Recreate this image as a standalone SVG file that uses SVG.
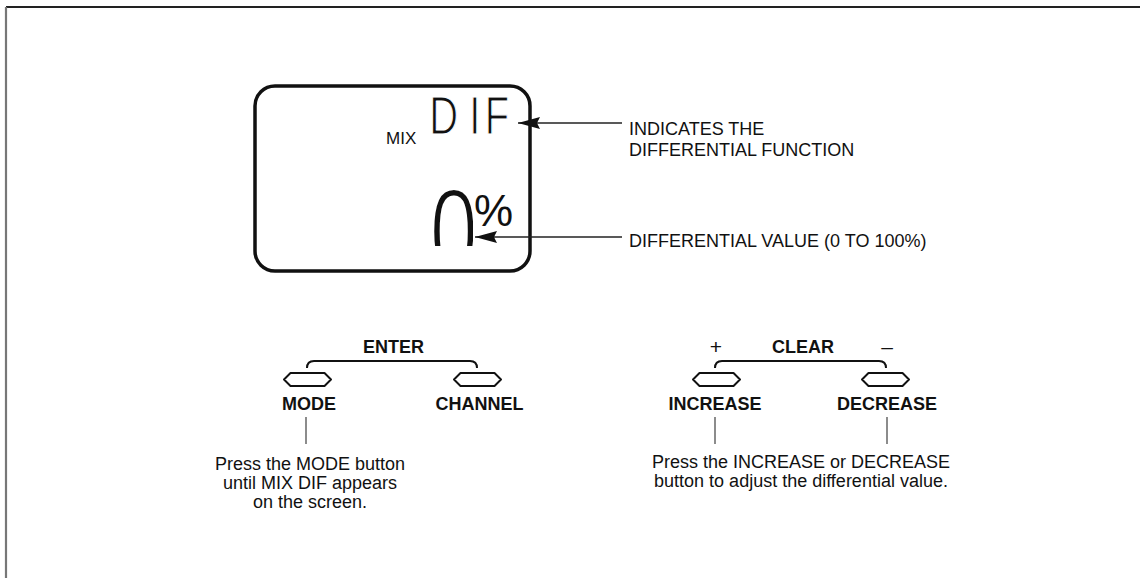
<svg xmlns="http://www.w3.org/2000/svg" width="1140" height="578" viewBox="0 0 1140 578">
<style>
text{font-family:"Liberation Sans",Arial,sans-serif;fill:#111}
.lbl{font-size:18px}
.b{font-size:18px;font-weight:bold;text-anchor:middle}
.note{font-size:18px;text-anchor:middle}
.btn{fill:#fff;stroke:#111;stroke-width:2;stroke-linejoin:round}
.brk{fill:none;stroke:#111;stroke-width:2}
.lead{stroke:#666;stroke-width:1.5}
.arr{stroke:#222;stroke-width:1.3;fill:none;marker-end:url(#ah)}
.thin{stroke:#fff;stroke-linejoin:round}
</style>
<defs>
<marker id="ah" viewBox="0 0 22 12" refX="22" refY="6" markerWidth="22" markerHeight="12" markerUnits="userSpaceOnUse" orient="auto">
<path d="M0,0 L22,6 L0,12 L3,6 Z" fill="#111"/>
</marker>
<path id="btnshape" d="M-23.5,0 L-17,-6.5 H17 L23.5,0 L17,6.5 H-17 Z"/>
<clipPath id="zclip"><rect x="400" y="150" width="73" height="96"/></clipPath>
</defs>
<rect width="1140" height="578" fill="#fff"/>
<g id="frame">
<line x1="6" y1="7" x2="1140" y2="7" stroke="#222" stroke-width="1.8"/>
<line x1="6" y1="7" x2="6" y2="578" stroke="#777" stroke-width="2.2"/>
</g>
<g id="display">
<rect x="255" y="86" width="275" height="185" rx="20" ry="20" fill="none" stroke="#111" stroke-width="3.5"/>
<text x="386" y="144" style="font-size:17px">MIX</text>
<text class="thin" transform="translate(0,134) scale(0.74,1)" x="580 634 655" y="0" style="font-size:54px;stroke-width:1.2">DIF</text>
<g clip-path="url(#zclip)"><text class="thin" transform="translate(0,273) scale(0.72,1)" x="597" y="0" style="font-size:120px;stroke-width:3">0</text></g>
<text x="474" y="226" style="font-size:44px">%</text>
</g>
<g id="connectors">
<line class="arr" x1="622" y1="123" x2="518" y2="123"/>
<line class="arr" x1="622" y1="237" x2="475" y2="237"/>
</g>
<g id="label-function">
<text class="lbl" x="629" y="135">INDICATES THE</text>
<text class="lbl" x="629" y="156">DIFFERENTIAL FUNCTION</text>
</g>
<g id="label-value">
<text class="lbl" x="629" y="247">DIFFERENTIAL VALUE (0 TO 100%)</text>
</g>
<g id="enter-group">
<text class="b" x="393.5" y="353">ENTER</text>
<path class="brk" d="M307,368 Q307,361 314,361 H470 Q477,361 477,368"/>
</g>
<g id="btn-mode">
<use href="#btnshape" class="btn" transform="translate(307.5,379.5)"/>
<text class="b" x="309" y="410">MODE</text>
<line class="lead" x1="306" y1="417" x2="306" y2="444"/>
</g>
<g id="btn-channel">
<use href="#btnshape" class="btn" transform="translate(477.5,379.5)"/>
<text class="b" x="479.5" y="410">CHANNEL</text>
</g>
<g id="note-mode">
<text class="note" x="310" y="470">Press the MODE button</text>
<text class="note" x="310" y="489">until MIX DIF appears</text>
<text class="note" x="310" y="508">on the screen.</text>
</g>
<g id="clear-group">
<text x="716" y="354" text-anchor="middle" style="font-size:21px">+</text>
<text class="b" x="803" y="353">CLEAR</text>
<text x="887" y="354" text-anchor="middle" style="font-size:21px">–</text>
<path class="brk" d="M715,368 Q715,361 722,361 H879 Q886,361 886,368"/>
</g>
<g id="btn-increase">
<use href="#btnshape" class="btn" transform="translate(716.5,379.5)"/>
<text class="b" x="715" y="410">INCREASE</text>
<line class="lead" x1="715" y1="417" x2="715" y2="444"/>
</g>
<g id="btn-decrease">
<use href="#btnshape" class="btn" transform="translate(885.5,379.5)"/>
<text class="b" x="887" y="410">DECREASE</text>
<line class="lead" x1="887" y1="417" x2="887" y2="444"/>
</g>
<g id="note-adjust">
<text class="note" x="801" y="468">Press the INCREASE or DECREASE</text>
<text class="note" x="801" y="487">button to adjust the differential value.</text>
</g>
</svg>
